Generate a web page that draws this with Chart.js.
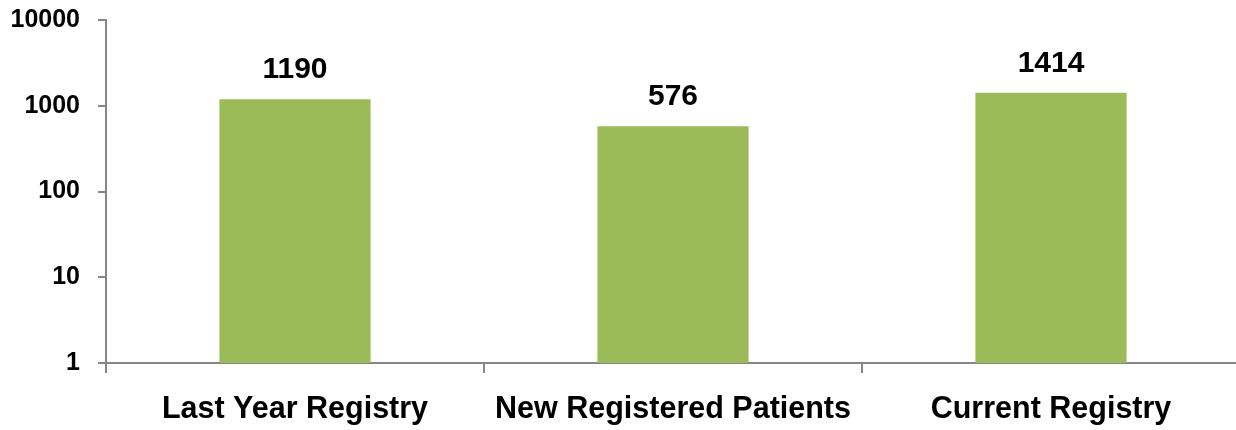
<!DOCTYPE html>
<html>
<head>
<meta charset="utf-8">
<script src="https://cdn.jsdelivr.net/npm/chart.js@4/dist/chart.umd.min.js"></script>
<style>
    html, body { margin: 0; padding: 0; background: #ffffff; overflow: hidden; }
    #wrap { width: 1236px; height: 430px; overflow: hidden; }
</style>
</head>
<body>
<div id="wrap"><canvas id="chart" width="1242" height="430"></canvas></div>
<script>
"use strict";

var categories = ["Last Year Registry", "New Registered Patients", "Current Registry"];
var patientCounts = [1190, 576, 1414];
var yTickValues = [1, 10, 100, 1000, 10000];

var fontFamily = "'Liberation Sans', Arial, sans-serif";
var axisGray = "#868686";

// draws the value above each bar
var valueLabels =
{
    id: "valueLabels",
    afterDatasetsDraw: function(chart)
    {
        var ctx = chart.ctx;
        var meta = chart.getDatasetMeta(0);
        ctx.save();
        ctx.font = "bold 30px " + fontFamily;
        ctx.fillStyle = "#000000";
        ctx.textAlign = "center";
        ctx.textBaseline = "alphabetic";
        meta.data.forEach(function(bar, index)
        {
            ctx.fillText(String(patientCounts[index]), bar.x, bar.y - 21);
        });
        ctx.restore();
    }
};

var ctx = document.getElementById("chart").getContext("2d");
var chart = new Chart(ctx,
{
    type: "bar",
    data:
    {
        labels: categories,
        datasets: [
        {
            data: patientCounts,
            backgroundColor: "#9BBB59",
            borderWidth: 0,
            barPercentage: 0.8,
            categoryPercentage: 0.5
        }]
    },
    options:
    {
        responsive: false,
        animation: false,
        layout: { padding: { top: 20, right: 2, left: 0, bottom: 0 } },
        plugins:
        {
            legend: { display: false },
            tooltip: { enabled: false }
        },
        scales:
        {
            x:
            {
                offset: true,
                grid:
                {
                    offset: true,
                    drawOnChartArea: false,
                    color: axisGray,
                    lineWidth: 2,
                    tickLength: 10
                },
                border: { color: axisGray, width: 2 },
                ticks:
                {
                    color: "#000000",
                    padding: 18,
                    autoSkip: false,
                    maxRotation: 0,
                    minRotation: 0,
                    font: { family: fontFamily, size: 30.5, weight: "bold" }
                },
                afterFit: function(scale)
                {
                    scale.height = 67;
                    scale.paddingLeft = 0;
                    scale.paddingRight = 0;
                }
            },
            y:
            {
                type: "logarithmic",
                min: 1,
                max: 10000,
                grid:
                {
                    drawOnChartArea: false,
                    color: axisGray,
                    lineWidth: 2,
                    tickLength: 8
                },
                border: { color: axisGray, width: 2 },
                afterBuildTicks: function(scale)
                {
                    scale.ticks = yTickValues.map(function(v) { return { value: v }; });
                },
                ticks:
                {
                    color: "#000000",
                    padding: 18,
                    font: { family: fontFamily, size: 25, weight: "bold" },
                    callback: function(value) { return String(value); }
                },
                afterFit: function(scale)
                {
                    scale.width = 106;
                    scale.paddingTop = 0;
                    scale.paddingBottom = 0;
                }
            }
        }
    },
    plugins: [valueLabels]
});
</script>
</body>
</html>
